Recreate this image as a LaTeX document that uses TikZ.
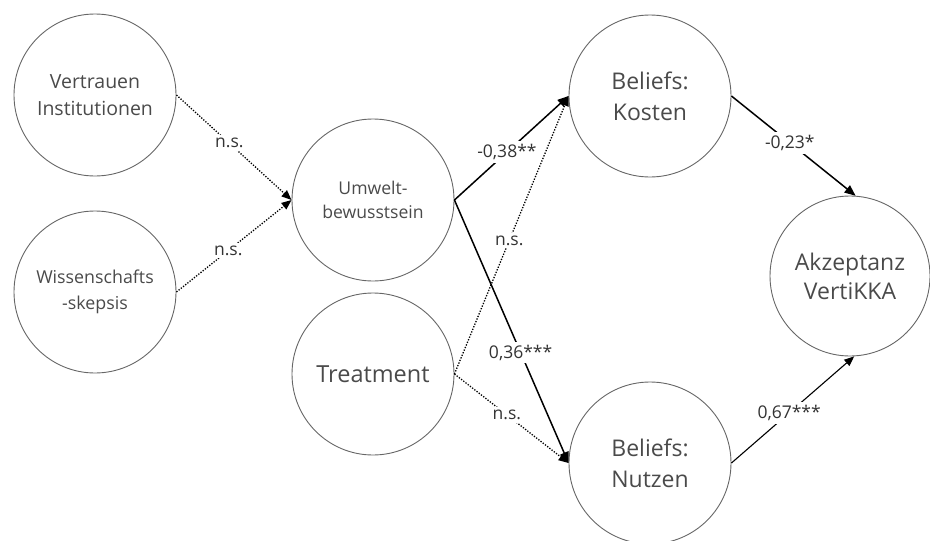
\documentclass[tikz,border=0pt]{standalone}
\usepackage{fontspec}
\setmainfont{Open Sans}
\usetikzlibrary{arrows.meta}
\definecolor{ringgray}{HTML}{666666}
\definecolor{textgray}{HTML}{4A4A4A}
\definecolor{labelgray}{HTML}{333333}
\begin{document}
\begin{tikzpicture}[x=1pt,y=-1pt,
  construct/.style={circle,draw=ringgray,line width=0.9pt,minimum size=162pt,
    inner sep=0pt,align=center,text=textgray},
  sigline/.style={draw=black,line width=1.5pt,-{Triangle[length=11pt,width=9pt]}},
  thinsig/.style={draw=black,line width=1.1pt,-{Triangle[length=10pt,width=8pt]}},
  nsline/.style={draw=black,line width=1.3pt,dash pattern=on 1.3pt off 1.5pt,
    -{Triangle[length=10pt,width=8pt]}},
  coef/.style={fill=white,inner sep=3pt,text=labelgray,
    font=\fontsize{17.5}{20}\selectfont}
]
\useasboundingbox (0,0) rectangle (930,541);

% latent constructs
\node[construct,font=\fontsize{19.5}{27.5}\selectfont] (vert) at (95,95) {Vertrauen\\Institutionen};
\node[construct,font=\fontsize{17.8}{26}\selectfont] (wiss) at (95,292) {Wissenschafts\\-skepsis};
\node[construct,font=\fontsize{17.6}{24.5}\selectfont] (umw) at (373,200) {Umwelt-\\bewusstsein};
\node[construct,font=\fontsize{23.5}{31}\selectfont] (treat) at (373,374) {Treatment};
\node[construct,font=\fontsize{23}{31}\selectfont] (kost) at (650,96) {Beliefs:\\Kosten};
\node[construct,font=\fontsize{23}{31}\selectfont] (nutz) at (650,463) {Beliefs:\\Nutzen};
\node[construct,minimum size=160pt,font=\fontsize{23}{29}\selectfont] (akz) at (850,276) {Akzeptanz\\VertiKKA};

% paths with coefficients
\draw[nsline] (vert.east) -- node[coef,pos=0.46]{n.s.} (umw.west);
\draw[nsline] (wiss.east) -- node[coef,pos=0.45]{n.s.} (umw.west);
\draw[nsline] (treat.east) -- node[coef,pos=0.48]{n.s.} (kost.west);
\draw[nsline] (treat.east) -- node[coef,pos=0.46]{n.s.} (nutz.west);
\draw[sigline] (umw.east) -- node[coef,pos=0.46]{-0,38**} (kost.west);
\draw[sigline] (umw.east) -- node[coef,pos=0.58]{0,36***} (nutz.west);
\draw[sigline] (kost.east) -- node[coef,pos=0.47]{-0,23*} (akz.86);
\draw[thinsig] (nutz.east) -- node[coef,pos=0.47]{0,67***} (akz.-87);
\end{tikzpicture}
\end{document}
